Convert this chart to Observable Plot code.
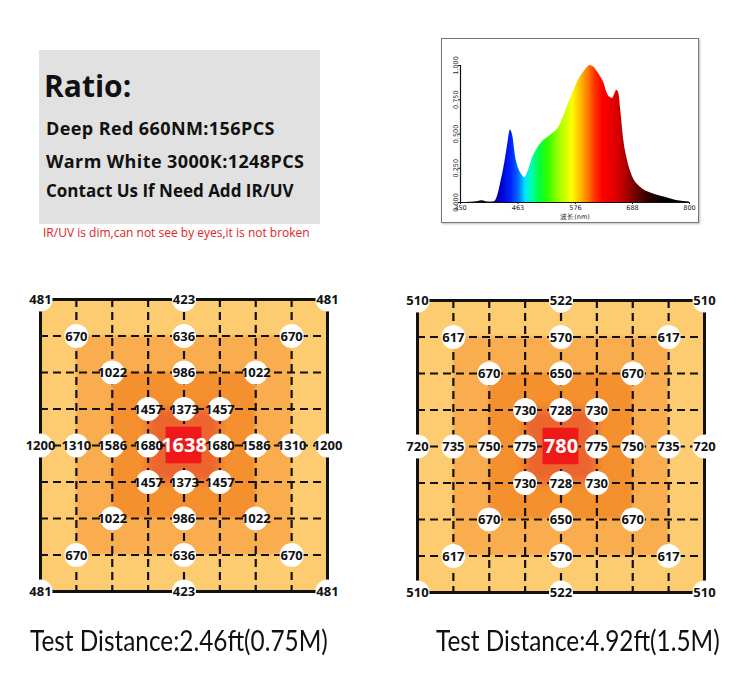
<!DOCTYPE html>
<html><head><meta charset="utf-8">
<script src="https://cdn.jsdelivr.net/npm/d3@7"></script>
<script src="https://cdn.jsdelivr.net/npm/@observablehq/plot@0.6"></script>
<style>
html,body{margin:0;padding:0;background:#fff;}
#page{position:relative;width:750px;height:690px;overflow:hidden;font-family:"Open Sans",sans-serif;}
.abs{position:absolute;white-space:nowrap;line-height:1;}
.ratio{font-weight:700;color:#111;}
.cap{font-family:Lato,sans-serif;font-size:28px;color:#111;transform:scaleX(0.87);transform-origin:0 0;}
</style></head><body><div id="page"></div>
<script>
// ---------- text content ----------
const ratioTitle = "Ratio:";
const ratioLines = ["Deep Red 660NM:156PCS", "Warm White 3000K:1248PCS", "Contact Us If Need Add IR/UV"];
const ratioNote = "IR/UV is dim,can not see by eyes,it is not broken";
const distanceLabels = ["Test Distance:2.46ft(0.75M)", "Test Distance:4.92ft(1.5M)"];

// ---------- spectrum (relative intensity vs wavelength, nm) ----------
const spectrumNm =    [350, 370, 385, 392, 400, 410, 417, 423, 430, 437, 443, 448, 453, 458, 465, 471, 476, 481, 486, 492, 499, 506, 513, 520, 530, 539, 546, 552, 558, 565, 572, 579, 586, 592, 598, 605, 611, 618, 625, 632, 638, 643, 649, 653, 657, 661, 665, 671, 678, 688, 704, 724, 750, 777, 800];
const spectrumValue = [0, 0.002, 0.008, 0.012, 0.006, 0.004, 0.008, 0.05, 0.16, 0.29, 0.43, 0.53, 0.48, 0.34, 0.24, 0.2, 0.18, 0.21, 0.26, 0.33, 0.38, 0.42, 0.45, 0.47, 0.5, 0.53, 0.57, 0.62, 0.68, 0.75, 0.81, 0.87, 0.92, 0.95, 0.98, 1.0, 0.99, 0.96, 0.92, 0.87, 0.8, 0.77, 0.76, 0.79, 0.82, 0.8, 0.67, 0.45, 0.31, 0.19, 0.11, 0.07, 0.04, 0.012, 0.003];
const spectrumXTicks = [350, 463, 576, 688, 800];
const spectrumYTicks = [0, 0.25, 0.5, 0.75, 1];
const spectrumXLabel = "波长(nm)";

// ---------- PPFD grids (rows top→bottom, columns left→right) ----------
const nearGrid = [
  [481, null, null, null, 423, null, null, null, 481],
  [null, 670, null, null, 636, null, null, 670, null],
  [null, null, 1022, null, 986, null, 1022, null, null],
  [null, null, null, 1457, 1373, 1457, null, null, null],
  [1200, 1310, 1586, 1680, 1638, 1680, 1586, 1310, 1200],
  [null, null, null, 1457, 1373, 1457, null, null, null],
  [null, null, 1022, null, 986, null, 1022, null, null],
  [null, 670, null, null, 636, null, null, 670, null],
  [481, null, null, null, 423, null, null, null, 481]
];
const farGrid = [
  [510, null, null, null, 522, null, null, null, 510],
  [null, 617, null, null, 570, null, null, 617, null],
  [null, null, 670, null, 650, null, 670, null, null],
  [null, null, null, 730, 728, 730, null, null, null],
  [720, 735, 750, 775, 780, 775, 750, 735, 720],
  [null, null, null, 730, 728, 730, null, null, null],
  [null, null, 670, null, 650, null, 670, null, null],
  [null, 617, null, null, 570, null, null, 617, null],
  [510, null, null, null, 522, null, null, null, 510]
];
const zoneLevels = [0, 1, 2, 3];

// ---------- styles ----------
const zoneFill = ["#FDCB70", "#F9AD50", "#F5902F", "#EC652D"];
const zoneBlur = [0, 1.2, 1.5, 5];
const spectrumStops = [
  [380, "#000000"], [410, "#1a0066"], [430, "#0000c8"], [450, "#0022ff"], [465, "#0070ff"],
  [478, "#00e5ff"], [490, "#00ffb0"], [505, "#00ff40"], [522, "#30ff00"], [548, "#b0ff00"],
  [570, "#ffff00"], [585, "#ffc000"], [600, "#ff8000"], [615, "#ff3000"], [630, "#ff0000"],
  [655, "#e00000"], [675, "#b00000"], [695, "#700000"], [720, "#300000"], [750, "#000000"]
];

const page = document.getElementById("page");
function addDiv(cls, text, left, top, css) {
  const d = document.createElement("div");
  d.className = "abs " + cls;
  d.textContent = text;
  d.style.left = left + "px";
  d.style.top = top + "px";
  if (css) Object.assign(d.style, css);
  page.appendChild(d);
  return d;
}

// ---------- ratio box ----------
const box = document.createElement("div");
Object.assign(box.style, {position: "absolute", left: "39px", top: "50px", width: "281px", height: "174px", background: "#E1E1E1"});
page.appendChild(box);
addDiv("ratio", ratioTitle, 44, 71, {fontSize: "30px"});
addDiv("ratio", ratioLines[0], 46, 119, {fontSize: "18px", letterSpacing: "0.4px"});
addDiv("ratio", ratioLines[1], 46, 152, {fontSize: "18px", letterSpacing: "0.4px"});
addDiv("ratio", ratioLines[2], 46, 182, {fontSize: "17px"});
addDiv("", ratioNote, 43, 227, {fontSize: "12px", color: "#E02424"});

// ---------- spectrum chart ----------
const frame = document.createElement("div");
Object.assign(frame.style, {position: "absolute", left: "441px", top: "38px", width: "256px", height: "183px", border: "1px solid #777", boxShadow: "1px 1px 2px #bbb", background: "#fff"});
page.appendChild(frame);
const spec = spectrumNm.map((nm, i) => ({nm, v: spectrumValue[i]}));
const sp = Plot.plot({
  width: 256, height: 183,
  marginLeft: 18, marginRight: 9, marginTop: 26, marginBottom: 20,
  style: {fontSize: "6.5px", fontFamily: "'DejaVu Sans', sans-serif", background: "transparent", color: "#222"},
  x: {domain: [350, 800], ticks: spectrumXTicks, tickSize: 2, tickPadding: 1, label: null},
  y: {domain: [0, 1], ticks: spectrumYTicks, tickFormat: d3.format(".3f"), tickRotate: -90, tickSize: 2, tickPadding: 1, label: null},
  marks: [
    Plot.areaY(spec, {x: "nm", y: "v", fill: "url(#specGrad)", curve: "monotone-x"}),
    Plot.ruleY([0], {stroke: "#111", strokeWidth: 1.2}),
    Plot.ruleX([350], {stroke: "#111", strokeWidth: 1.2}),
    Plot.text([spectrumXLabel], {text: d => d, frameAnchor: "bottom", dy: 16, fontSize: 6.5, fill: "#222"})
  ]
});
{
  const xs = sp.scale("x");
  const ns = "http://www.w3.org/2000/svg";
  const defs = document.createElementNS(ns, "defs");
  const lg = document.createElementNS(ns, "linearGradient");
  lg.setAttribute("id", "specGrad");
  lg.setAttribute("gradientUnits", "userSpaceOnUse");
  const a = xs.apply(spectrumStops[0][0]), b = xs.apply(spectrumStops[spectrumStops.length - 1][0]);
  lg.setAttribute("x1", a); lg.setAttribute("x2", b); lg.setAttribute("y1", 0); lg.setAttribute("y2", 0);
  spectrumStops.forEach(([nm, c]) => {
    const s = document.createElementNS(ns, "stop");
    s.setAttribute("offset", (xs.apply(nm) - a) / (b - a));
    s.setAttribute("stop-color", c);
    lg.appendChild(s);
  });
  defs.appendChild(lg);
  sp.insertBefore(defs, sp.firstChild);
}
sp.style.position = "absolute"; sp.style.left = "0px"; sp.style.top = "0px";
frame.appendChild(sp);

// ---------- grid maps ----------
function gridChart(grid, id) {
  const n = grid.length - 1;
  const mid = n / 2;
  const cells = [];
  grid.forEach((row, r) => row.forEach((v, c) => { if (v != null) cells.push({r, c, v}); }));
  const peak = cells.filter(d => d.r === mid && d.c === mid);
  const others = cells.filter(d => !(d.r === mid && d.c === mid));
  const lines = d3.range(1, n);
  const svg = Plot.plot({
    width: 360, height: 330,
    marginLeft: 40, marginRight: 33, marginTop: 19, marginBottom: 19,
    style: {background: "transparent", fontFamily: "'Open Sans', sans-serif"},
    x: {domain: [0, n], axis: null},
    y: {domain: [0, n], axis: null, reverse: true},
    marks: [
      ...zoneLevels.map(L => Plot.rect([L], {x1: d => d, x2: d => n - d, y1: d => d, y2: d => n - d, fill: zoneFill[L], rx: 6})),
      Plot.ruleX(lines, {y1: 0, y2: n, stroke: "#111", strokeWidth: 2.2, strokeDasharray: "8,5"}),
      Plot.ruleY(lines, {x1: 0, x2: n, stroke: "#111", strokeWidth: 2.2, strokeDasharray: "8,5"}),
      Plot.ruleX([0, n], {y1: 0, y2: n, stroke: "#111", strokeWidth: 3}),
      Plot.ruleY([0, n], {x1: 0, x2: n, stroke: "#111", strokeWidth: 3}),
      Plot.dot(others, {x: "c", y: "r", r: 12, fill: "white"}),
      Plot.text(others, {x: "c", y: "r", text: d => String(d.v), fontSize: 13, fontWeight: 700, fill: "#111", dy: 0.5}),
      Plot.rect(peak, {x1: d => d.c - 0.5, x2: d => d.c + 0.5, y1: d => d.r - 0.5, y2: d => d.r + 0.5, fill: "#F01818"}),
      Plot.text(peak, {x: "c", y: "r", text: d => String(d.v), fill: "white", fontSize: 20, fontWeight: 700})
    ]
  });
  // soften the zone edges
  const ns = "http://www.w3.org/2000/svg";
  const defs = document.createElementNS(ns, "defs");
  zoneBlur.forEach((sd, L) => {
    if (!sd) return;
    const f = document.createElementNS(ns, "filter");
    f.setAttribute("id", id + "blur" + L);
    f.setAttribute("x", "-20%"); f.setAttribute("y", "-20%"); f.setAttribute("width", "140%"); f.setAttribute("height", "140%");
    const g = document.createElementNS(ns, "feGaussianBlur");
    g.setAttribute("stdDeviation", sd);
    f.appendChild(g);
    defs.appendChild(f);
  });
  svg.insertBefore(defs, svg.firstChild);
  const rectGroups = svg.querySelectorAll('g[aria-label="rect"]');
  zoneLevels.forEach(L => { if (zoneBlur[L] && rectGroups[L]) rectGroups[L].setAttribute("filter", `url(#${id}blur${L})`); });
  return svg;
}
const g1 = gridChart(nearGrid, "near");
Object.assign(g1.style, {position: "absolute", left: "0px", top: "280px"});
page.appendChild(g1);
const g2 = gridChart(farGrid, "far");
Object.assign(g2.style, {position: "absolute", left: "377px", top: "281px"});
page.appendChild(g2);

// ---------- captions ----------
addDiv("cap", distanceLabels[0], 30, 626);
addDiv("cap", distanceLabels[1], 436, 626);
</script></body></html>
